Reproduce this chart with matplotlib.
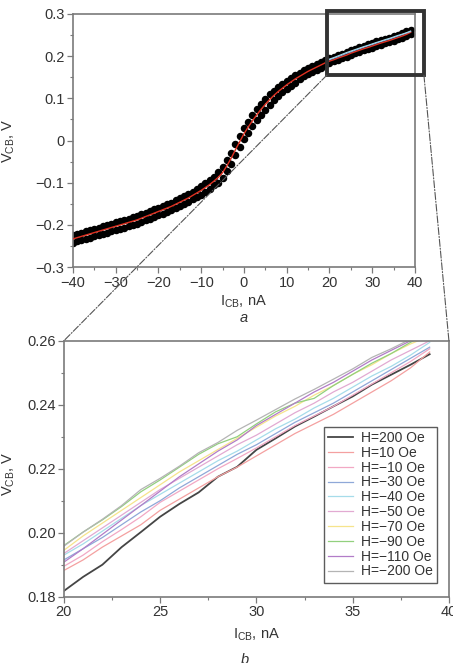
import numpy as np
from matplotlib import pyplot as plt
from matplotlib.patches import Rectangle, ConnectionPatch
from matplotlib.ticker import MultipleLocator

plt.rcParams['font.family'] = ['Liberation Sans', 'DejaVu Sans']
plt.rcParams['mathtext.fontset'] = 'custom'
plt.rcParams['mathtext.rm'] = 'Liberation Sans'

# ---- data (a): full sweep, -40..39 nA
icb_full = np.arange(-40, 40)
v_red = [-0.233, -0.230, -0.227, -0.224, -0.221, -0.218, -0.215, -0.212, -0.209, -0.206,
         -0.203, -0.200, -0.197, -0.194, -0.191, -0.188, -0.184, -0.180, -0.176, -0.172,
         -0.168, -0.164, -0.160, -0.156, -0.151, -0.146, -0.141, -0.136, -0.130, -0.124,
         -0.118, -0.111, -0.104, -0.096, -0.087, -0.076, -0.060, -0.042, -0.022, -0.003,
         0.016, 0.032, 0.047, 0.061, 0.074, 0.086, 0.097, 0.107, 0.116, 0.124,
         0.132, 0.139, 0.146, 0.152, 0.158, 0.164, 0.169, 0.174, 0.179, 0.184,
         0.1882, 0.1915, 0.1955, 0.1990, 0.2025, 0.2070, 0.2105, 0.2140, 0.2175, 0.2205,
         0.2240, 0.2275, 0.2310, 0.2340, 0.2370, 0.2405, 0.2440, 0.2475, 0.2515, 0.2565]
v_dots_up = [-0.224, -0.221, -0.218, -0.215, -0.212, -0.209, -0.206, -0.203, -0.200, -0.197,
             -0.194, -0.191, -0.188, -0.185, -0.182, -0.179, -0.175, -0.171, -0.167, -0.163,
             -0.159, -0.155, -0.151, -0.147, -0.142, -0.137, -0.132, -0.127, -0.121, -0.114,
             -0.108, -0.101, -0.094, -0.086, -0.074, -0.063, -0.047, -0.029, -0.009, 0.010,
             0.029, 0.045, 0.060, 0.074, 0.087, 0.099, 0.110, 0.117, 0.126, 0.134,
             0.142, 0.149, 0.156, 0.160, 0.166, 0.172, 0.177, 0.182, 0.187, 0.192,
             0.195, 0.199, 0.203, 0.206, 0.210, 0.214, 0.218, 0.221, 0.225, 0.228,
             0.231, 0.235, 0.238, 0.241, 0.244, 0.248, 0.251, 0.255, 0.259, 0.263]
v_dots_dn = [-0.242, -0.239, -0.236, -0.233, -0.230, -0.227, -0.224, -0.221, -0.218, -0.215,
             -0.212, -0.209, -0.206, -0.203, -0.200, -0.197, -0.193, -0.189, -0.185, -0.181,
             -0.177, -0.173, -0.169, -0.165, -0.160, -0.155, -0.150, -0.145, -0.139, -0.134,
             -0.128, -0.121, -0.114, -0.106, -0.100, -0.089, -0.073, -0.055, -0.035, -0.016,
             0.003, 0.019, 0.034, 0.048, 0.061, 0.073, 0.084, 0.097, 0.106, 0.114,
             0.122, 0.129, 0.136, 0.146, 0.152, 0.158, 0.163, 0.168, 0.173, 0.178,
             0.184, 0.188, 0.192, 0.195, 0.199, 0.203, 0.207, 0.210, 0.214, 0.217,
             0.220, 0.224, 0.227, 0.230, 0.233, 0.237, 0.240, 0.244, 0.248, 0.253]

# ---- data (b): zoom, 20..39 nA
icb_zoom = np.arange(20, 40)
labels = ['H=200 Oe', 'H=10 Oe', 'H=\u221210 Oe', 'H=\u221230 Oe', 'H=\u221240 Oe',
          'H=\u221250 Oe', 'H=\u221270 Oe', 'H=\u221290 Oe', 'H=\u2212110 Oe', 'H=\u2212200 Oe']
colors = ['#454545', '#f4a0a0', '#f2a8c4', '#8fa8d8', '#a6dcea',
          '#e2aad2', '#f6e48c', '#92d07e', '#b27cc8', '#b4b4b4']
h200 = [0.1818, 0.1862, 0.1900, 0.1955, 0.2002, 0.2050, 0.2090, 0.2126, 0.2175, 0.2206,
        0.2259, 0.2295, 0.2332, 0.2363, 0.2395, 0.2426, 0.2463, 0.2494, 0.2525, 0.2558]
h10 = [0.1882, 0.1915, 0.1955, 0.1990, 0.2025, 0.2070, 0.2105, 0.2140, 0.2175, 0.2205,
       0.2240, 0.2275, 0.2310, 0.2340, 0.2370, 0.2405, 0.2440, 0.2475, 0.2515, 0.2565]
hm10 = [0.1895, 0.1930, 0.1972, 0.2010, 0.2050, 0.2095, 0.2130, 0.2165, 0.2200, 0.2232,
        0.2265, 0.2300, 0.2335, 0.2365, 0.2395, 0.2430, 0.2465, 0.2500, 0.2535, 0.2575]
hm30 = [0.1915, 0.1950, 0.1985, 0.2025, 0.2065, 0.2100, 0.2140, 0.2175, 0.2210, 0.2245,
        0.2275, 0.2310, 0.2345, 0.2375, 0.2405, 0.2440, 0.2475, 0.2510, 0.2545, 0.2580]
hm40 = [0.1930, 0.1965, 0.2005, 0.2045, 0.2085, 0.2120, 0.2155, 0.2190, 0.2225, 0.2255,
        0.2290, 0.2325, 0.2355, 0.2390, 0.2420, 0.2455, 0.2490, 0.2520, 0.2555, 0.2595]
hm50 = [0.1935, 0.1975, 0.2015, 0.2055, 0.2095, 0.2135, 0.2170, 0.2205, 0.2240, 0.2275,
        0.2305, 0.2340, 0.2375, 0.2405, 0.2440, 0.2470, 0.2505, 0.2540, 0.2570, 0.2600]
hm70 = [0.1945, 0.1990, 0.2030, 0.2070, 0.2110, 0.2150, 0.2190, 0.2225, 0.2260, 0.2295,
        0.2330, 0.2365, 0.2395, 0.2430, 0.2460, 0.2495, 0.2525, 0.2560, 0.2590, 0.2615]
hm90 = [0.1960, 0.2002, 0.2040, 0.2082, 0.2128, 0.2165, 0.2205, 0.2245, 0.2278, 0.2300,
        0.2340, 0.2378, 0.2405, 0.2420, 0.2460, 0.2495, 0.2530, 0.2560, 0.2595, 0.2625]
hm110 = [0.1908, 0.1950, 0.1995, 0.2040, 0.2085, 0.2130, 0.2175, 0.2215, 0.2255, 0.2290,
         0.2335, 0.2370, 0.2405, 0.2440, 0.2470, 0.2505, 0.2540, 0.2570, 0.2600, 0.2630]
hm200 = [0.1958, 0.2002, 0.2042, 0.2085, 0.2135, 0.2170, 0.2208, 0.2250, 0.2282, 0.2320,
         0.2352, 0.2385, 0.2418, 0.2448, 0.2480, 0.2512, 0.2548, 0.2575, 0.2605, 0.2635]
series = [h200, h10, hm10, hm30, hm40, hm50, hm70, hm90, hm110, hm200]

spine_c = '#7a7a7a'
text_c = '#333333'
fs = 10.5

fig = plt.figure(figsize=(4.53, 6.63), dpi=100)
ax1 = fig.add_axes([0.161, 0.597, 0.755, 0.382])
ax2 = fig.add_axes([0.141, 0.100, 0.850, 0.386])

# (a)
ax1.plot(icb_full, v_dots_dn, 'o', color='black', ms=5.4, mew=0, zorder=2)
ax1.plot(icb_full, v_dots_up, 'o', color='black', ms=5.4, mew=0, zorder=2)
ax1.plot(icb_full, v_red, color='#e03020', lw=1.0, zorder=3)
for v, c in zip(series[3:5], colors[3:5]):
    ax1.plot(icb_zoom, v, color=c, lw=0.8, zorder=3)
ax1.set_xlim(-40, 40)
ax1.set_ylim(-0.3, 0.3)
ax1.xaxis.set_minor_locator(MultipleLocator(5))
ax1.yaxis.set_minor_locator(MultipleLocator(0.05))
ax1.set_xticks(np.arange(-40, 41, 10))
ax1.set_xticklabels([f'{t}'.replace('-', '\u2212') for t in range(-40, 41, 10)])
yt = np.round(np.arange(-0.3, 0.31, 0.1), 1)
ax1.set_yticks(yt)
ax1.set_yticklabels([('0' if abs(t) < 1e-9 else f'{t:.1f}').replace('-', '\u2212') for t in yt])
ax1.set_xlabel(r'I$_\mathregular{CB}$, nA', fontsize=fs, color=text_c)
ax1.set_ylabel(r'V$_\mathregular{CB}$, V', fontsize=fs, color=text_c)
ax1.xaxis.set_label_coords(0.5, -0.105)
ax1.yaxis.set_label_coords(-0.164, 0.5)
fig.text(0.539, 1 - 318 / 663, 'a', fontsize=fs, style='italic', color=text_c,
         ha='center', va='center')

# zoom box
ax1.add_patch(Rectangle((19.4, 0.155), 22.7, 0.152, fill=False, lw=2.8,
                        edgecolor='#333333', clip_on=False, zorder=5))

# (b)
for v, c, lab in zip(series, colors, labels):
    ax2.plot(icb_zoom, v, color=c, lw=1.3 if lab == 'H=200 Oe' else 0.9, label=lab)
ax2.set_xlim(20, 40)
ax2.set_ylim(0.18, 0.26)
ax2.xaxis.set_major_locator(MultipleLocator(5))
ax2.xaxis.set_minor_locator(MultipleLocator(2.5))
ax2.yaxis.set_major_locator(MultipleLocator(0.02))
ax2.yaxis.set_minor_locator(MultipleLocator(0.01))
ax2.yaxis.set_major_formatter(plt.FormatStrFormatter('%.2f'))
ax2.set_xlabel(r'I$_\mathregular{CB}$, nA', fontsize=fs, color=text_c)
ax2.set_ylabel(r'V$_\mathregular{CB}$, V', fontsize=fs, color=text_c)
ax2.xaxis.set_label_coords(0.5, -0.115)
ax2.yaxis.set_label_coords(-0.122, 0.48)
fig.text(0.541, 1 - 660 / 663, 'b', fontsize=fs, style='italic', color=text_c,
         ha='center', va='center')
leg = ax2.legend(loc='lower right', bbox_to_anchor=(0.969, 0.055), borderaxespad=0,
                 fontsize=10, frameon=True, fancybox=False, handlelength=1.8,
                 labelspacing=0.06, borderpad=0.3, handletextpad=0.55)
leg.get_frame().set_edgecolor('#333333')
leg.get_frame().set_linewidth(1.0)
for t in leg.get_texts():
    t.set_color(text_c)

for ax in (ax1, ax2):
    for s in ax.spines.values():
        s.set_color(spine_c)
        s.set_linewidth(1.2)
    ax.tick_params(which='major', direction='out', length=4, width=0.9,
                   color=spine_c, labelsize=fs, labelcolor=text_c, pad=2)
    ax.tick_params(which='minor', direction='out', length=2, width=0.8, color=spine_c)
    ax.tick_params(axis='x', which='both', top=False)
    ax.tick_params(axis='y', which='both', right=False)

# dash-dot connectors from box to zoomed axes
for xa, xb in [(19.4, 20), (42.1, 40)]:
    con = ConnectionPatch(xyA=(xa, 0.155), coordsA=ax1.transData,
                          xyB=(xb, 0.26), coordsB=ax2.transData,
                          linestyle='-.', lw=0.8, color='#555555', zorder=1)
    fig.add_artist(con)

fig.savefig('out.png', dpi=100)
